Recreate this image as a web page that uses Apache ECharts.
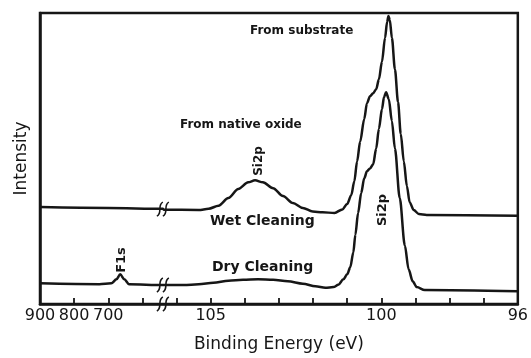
<!DOCTYPE html>
<html>
<head>
<meta charset="UTF-8">
<title></title>
<script src="https://cdn.jsdelivr.net/npm/echarts@6/dist/echarts.min.js"></script>
</head>
<body style="margin:0;background:#fff">
<div id="main" style="width:531px;height:358px"></div>
<script>
// binding energies (eV): wide scan part (900..540) and Si2p region (106..96)
var wetE = [900, 700, 540, 106.37, 105.35, 105.06, 104.77, 104.48, 104.19, 103.9, 103.7, 103.47, 103.17,
    102.88, 102.59, 102.3, 102.01, 101.72, 101.37, 101.14, 101.0, 100.88, 100.79,
    100.71, 100.62, 100.5, 100.42, 100.33, 100.24, 100.15, 100.07, 99.98, 99.89,
    99.83, 99.79, 99.75, 99.69, 99.6, 99.51, 99.43, 99.34, 99.25, 99.17,
    99.05, 98.9, 98.67, 96];
var wetI = [33.3, 33.0, 32.7, 32.4, 32.3, 32.7, 33.8, 36.4, 39.5, 41.8, 42.5, 41.8, 39.8,
    37.1, 34.7, 33.0, 31.8, 31.5, 31.3, 32.5, 34.4, 37.4, 42.2,
    49.0, 55.8, 63.6, 69.0, 71.4, 72.4, 73.8, 77.2, 83.3, 91.5,
    96.9, 99.0, 97.6, 91.5, 80.6, 69.4, 58.5, 49.0, 40.5, 35.0,
    32.3, 30.9, 30.6, 30.3];

var dryE = [900, 726, 691, 676, 665, 653, 639, 540,
    106.37, 105.79, 105.35, 104.92, 104.48, 104.05, 103.61, 103.17, 102.74, 102.3,
    101.93, 101.64, 101.4, 101.26, 101.11, 101.0, 100.91, 100.82, 100.76, 100.68,
    100.59, 100.5, 100.42, 100.33, 100.24, 100.15, 100.07, 99.98, 99.92, 99.86,
    99.78, 99.69, 99.6, 99.46, 99.31, 99.2, 99.08, 98.96, 98.73, 96];
var dryI = [7.1, 6.8, 7.1, 8.5, 10.2, 8.5, 6.8, 6.5,
    6.5, 6.5, 6.8, 7.3, 8.0, 8.3, 8.5, 8.3, 7.8, 7.0,
    6.1, 5.6, 5.8, 6.6, 8.5, 10.2, 12.6, 17.7, 23.8, 31.3,
    38.1, 43.2, 45.6, 46.6, 48.0, 53.4, 60.2, 67.0, 71.1, 72.8,
    70.4, 62.9, 53.4, 36.4, 20.1, 11.9, 7.8, 5.8, 4.8, 4.4];

var tickLabels = {900: '900', 800: '800', 700: '700', 105: '105', 100: '100', 96: '96'};
var breakE = 540;                 // where the axis is broken
var breakLevels = [0, 32.6, 6.5]; // axis, wet curve, dry curve

// broken axis: 900..600 eV (100 eV per tick), then 106..96 eV (1 eV per tick)
function toAxis(e) {
    return e > 200 ? (900 - e) / 100 : 110 - e;
}
function fromAxis(u) {
    return u < 3.6 ? Math.round(900 - u * 100) : Math.round(110 - u);
}
function pairs(es, is) {
    return es.map(function (e, i) { return [toAxis(e), is[i]]; });
}

var ink = '#161616';
var font = 'DejaVu Sans';

var myChart = echarts.init(document.getElementById('main'));
var option = {
    backgroundColor: '#fff',
    animation: false,
    grid: {
        left: 40, right: 9, top: 13, bottom: 50,
        show: true, borderColor: ink, borderWidth: 2.5
    },
    xAxis: {
        type: 'value', min: 0, max: 14, interval: 1,
        name: 'Binding Energy (eV)', nameLocation: 'middle', nameGap: 32,
        nameTextStyle: {color: ink, fontSize: 17, fontFamily: font},
        axisLine: {lineStyle: {color: ink, width: 2.5}},
        axisTick: {inside: true, length: 6, lineStyle: {color: ink, width: 1.8}},
        axisLabel: {
            color: ink, fontSize: 16, fontFamily: font, margin: 4,
            formatter: function (v) { return tickLabels[fromAxis(v)] || ''; }
        },
        splitLine: {show: false}
    },
    yAxis: {
        type: 'value', min: 0, max: 100,
        name: 'Intensity', nameLocation: 'middle', nameGap: 10,
        nameTextStyle: {color: ink, fontSize: 17, fontFamily: font},
        axisLine: {show: true, lineStyle: {color: ink, width: 2.5}},
        axisTick: {show: false},
        axisLabel: {show: false},
        splitLine: {show: false}
    },
    series: [{
        name: 'Wet Cleaning', type: 'line',
        data: pairs(wetE, wetI),
        showSymbol: false, smooth: 0.3, smoothMonotone: 'x',
        lineStyle: {color: ink, width: 2.5}
    }, {
        name: 'Dry Cleaning', type: 'line',
        data: pairs(dryE, dryI),
        showSymbol: false, smooth: 0.3, smoothMonotone: 'x',
        lineStyle: {color: ink, width: 2.5}
    }, {
        // "//" break marks
        type: 'custom',
        clip: false, z: 5,
        data: breakLevels.map(function (l) { return [toAxis(breakE), l]; }),
        renderItem: function (params, api) {
            var p = api.coord([api.value(0), api.value(1)]);
            var kids = [];
            [-3, 3].forEach(function (dx) {
                var x = p[0] + dx;
                kids.push({
                    type: 'bezierCurve',
                    shape: {
                        x1: x - 3, y1: p[1] + 7, x2: x + 3, y2: p[1] - 7,
                        cpx1: x + 3, cpy1: p[1] + 4, cpx2: x - 3, cpy2: p[1] - 4
                    },
                    style: {stroke: ink, lineWidth: 1.6, fill: null}
                });
            });
            return {type: 'group', children: kids};
        }
    }],
    graphic: [
        {type: 'text', left: 250, top: 25, style: {text: 'From substrate', fill: ink, font: 'bold 12px ' + font}},
        {type: 'text', left: 180, top: 119, style: {text: 'From native oxide', fill: ink, font: 'bold 12px ' + font}},
        {type: 'text', left: 210, top: 214, style: {text: 'Wet Cleaning', fill: ink, font: 'bold 14px ' + font}},
        {type: 'text', left: 212, top: 260, style: {text: 'Dry Cleaning', fill: ink, font: 'bold 14px ' + font}},
        {type: 'text', x: 259, y: 161, rotation: Math.PI / 2,
            style: {text: 'Si2p', fill: ink, font: 'bold 12px ' + font, align: 'center', verticalAlign: 'middle'}},
        {type: 'text', x: 383, y: 210, rotation: Math.PI / 2,
            style: {text: 'Si2p', fill: ink, font: 'bold 13px ' + font, align: 'center', verticalAlign: 'middle'}},
        {type: 'text', x: 122, y: 260, rotation: Math.PI / 2,
            style: {text: 'F1s', fill: ink, font: 'bold 13px ' + font, align: 'center', verticalAlign: 'middle'}}
    ]
};
myChart.setOption(option);
</script>
</body>
</html>
